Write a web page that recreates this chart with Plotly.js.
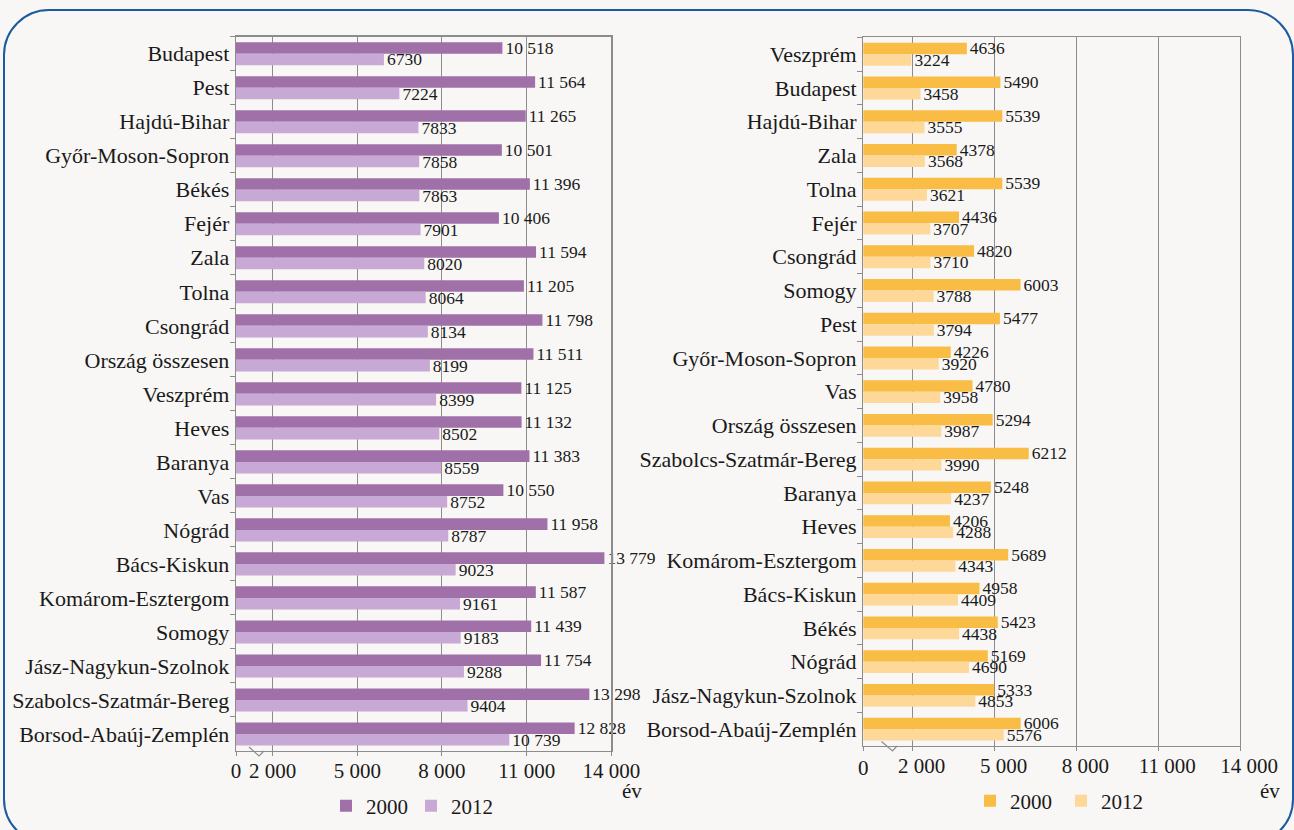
<!DOCTYPE html>
<html><head><meta charset="utf-8">
<script src="https://cdn.plot.ly/plotly-3.0.1.min.js"></script>
<style>
html,body{margin:0;padding:0;background:#f8f7f5;width:1294px;height:830px;overflow:hidden;}
#frame{position:absolute;left:3px;top:9px;width:1291px;height:836px;box-sizing:border-box;border:2.5px solid #1c5c9e;border-radius:46px;}
#chart{position:absolute;left:0;top:0;width:1294px;height:830px;}
</style></head><body>
<div id="frame"></div><div id="chart"></div>
<script>
// ---- data ----
const leftCategories = ['Budapest','Pest','Hajdú-Bihar','Győr-Moson-Sopron','Békés','Fejér','Zala','Tolna','Csongrád','Ország összesen','Veszprém','Heves','Baranya','Vas','Nógrád','Bács-Kiskun','Komárom-Esztergom','Somogy','Jász-Nagykun-Szolnok','Szabolcs-Szatmár-Bereg','Borsod-Abaúj-Zemplén'];
const left2000 = [10518,11564,11265,10501,11396,10406,11594,11205,11798,11511,11125,11132,11383,10550,11958,13779,11587,11439,11754,13298,12828];
const left2012 = [6730,7224,7833,7858,7863,7901,8020,8064,8134,8199,8399,8502,8559,8752,8787,9023,9161,9183,9288,9404,10739];

const rightCategories = ['Veszprém','Budapest','Hajdú-Bihar','Zala','Tolna','Fejér','Csongrád','Somogy','Pest','Győr-Moson-Sopron','Vas','Ország összesen','Szabolcs-Szatmár-Bereg','Baranya','Heves','Komárom-Esztergom','Bács-Kiskun','Békés','Nógrád','Jász-Nagykun-Szolnok','Borsod-Abaúj-Zemplén'];
const right2000 = [4636,5490,5539,4378,5539,4436,4820,6003,5477,4226,4780,5294,6212,5248,4206,5689,4958,5423,5169,5333,6006];
const right2012 = [3224,3458,3555,3568,3621,3707,3710,3788,3794,3920,3958,3987,3990,4237,4288,4343,4409,4438,4690,4853,5576];

const seriesNames = ['2000','2012'];
const tickLabelValues = [0,2000,5000,8000,11000,14000];
const tickLabelText = ['0','2 000','5 000','8 000','11 000','14 000'];
const unitLabel = 'év';

// ---- helpers ----
const W = 1294, H = 830;
const px = x => x / W;
const py = y => 1 - y / H;
function fmt(n){ return n >= 10000 ? String(n).replace(/\B(?=(\d{3})+(?!\d))/g,' ') : String(n); }
function mapTicks(vals, labStart, barMin, barMax){
  return vals.map(v => v === 0 ? barMin : barMin + (v - labStart) * (barMax - barMin) / (14000 - labStart));
}
const FONT = '"Liberation Serif", "Times New Roman", Times, "DejaVu Serif", serif';
const TXT = '#1a1a1a';
const GRID = '#8c8c8c';

const leftRange = [2000, 14000];
const rightRange = [2000, 11590];

function bars(cats, vals, name, color, xa, ya, legend){
  return {type:'bar', orientation:'h', y:cats, x:vals, name:name, xaxis:xa, yaxis:ya, legend:legend,
    marker:{color:color, line:{width:0}}, text:vals.map(fmt), textposition:'outside',
    constraintext:'none', cliponaxis:false, textfont:{family:FONT,size:17.5,color:TXT}, hoverinfo:'skip'};
}

const data = [
  bars(leftCategories, left2000, seriesNames[0], '#a070a8', 'x', 'y', 'legend'),
  bars(leftCategories, left2012, seriesNames[1], '#c8a8d4', 'x', 'y', 'legend'),
  bars(rightCategories, right2000, seriesNames[0], '#f9bc45', 'x2', 'y2', 'legend2'),
  bars(rightCategories, right2012, seriesNames[1], '#fdd898', 'x2', 'y2', 'legend2')
];

const xBase = {showline:true, linecolor:GRID, linewidth:1.3, mirror:true, showgrid:true, gridcolor:GRID, gridwidth:1,
  zeroline:false, ticks:'outside', ticklen:4, tickcolor:GRID, ticklabelstandoff:-4, tickfont:{family:FONT,size:21,color:TXT}, fixedrange:true};
const yBase = {type:'category', autorange:'reversed', showline:true, linecolor:GRID, linewidth:1.3, mirror:true,
  ticks:'outside', tickson:'boundaries', ticklen:5, tickcolor:GRID, showgrid:false, ticklabelstandoff:1,
  tickfont:{family:FONT,size:22,color:TXT}, fixedrange:true};

const layout = {
  width:W, height:H, margin:{l:0,r:0,t:0,b:0},
  paper_bgcolor:'rgba(0,0,0,0)', plot_bgcolor:'rgba(0,0,0,0)',
  barmode:'group', bargap:0.32, bargroupgap:0,
  font:{family:FONT, color:TXT},
  xaxis:Object.assign({}, xBase, {domain:[px(236), px(611.3)], range:leftRange, anchor:'y',
    tickvals:mapTicks(tickLabelValues, 700, leftRange[0], leftRange[1]), ticktext:tickLabelText}),
  yaxis:Object.assign({}, yBase, {domain:[py(751), py(36.7)], anchor:'x'}),
  xaxis2:Object.assign({}, xBase, {domain:[px(863.3), px(1240)], range:rightRange, anchor:'y2',
    tickvals:mapTicks(tickLabelValues, 189, rightRange[0], rightRange[1]),
    ticktext:tickLabelText.map((t,i)=> i===0 ? '' : t), ticklabelshift:9}),
  yaxis2:Object.assign({}, yBase, {domain:[py(746), py(37.3)], anchor:'x2'}),
  legend:{orientation:'h', x:px(326), xanchor:'left', y:py(806), yanchor:'middle', entrywidth:40,
    font:{family:FONT,size:21,color:TXT}, bgcolor:'rgba(0,0,0,0)', traceorder:'normal'},
  legend2:{orientation:'h', x:px(970), xanchor:'left', y:py(801), yanchor:'middle', entrywidth:46,
    font:{family:FONT,size:21,color:TXT}, bgcolor:'rgba(0,0,0,0)', traceorder:'normal'},
  annotations:[
    {text:unitLabel, xref:'paper', yref:'paper', x:px(632), y:py(791), xanchor:'center', yanchor:'middle', showarrow:false, font:{family:FONT,size:21,color:TXT}},
    {text:unitLabel, xref:'paper', yref:'paper', x:px(1269.5), y:py(791), xanchor:'center', yanchor:'middle', showarrow:false, font:{family:FONT,size:21,color:TXT}},
    {text:tickLabelText[0], xref:'paper', yref:'paper', x:px(863.3), y:py(767.5), xanchor:'center', yanchor:'middle', showarrow:false, font:{family:FONT,size:21,color:TXT}}
  ],
  shapes:[
    {type:'path', xref:'paper', yref:'paper', path:`M ${px(249)},${py(747)} L ${px(259)},${py(756)} L ${px(264)},${py(751)}`, line:{color:GRID,width:1.2}},
    {type:'path', xref:'paper', yref:'paper', path:`M ${px(881.5)},${py(741.5)} L ${px(892.5)},${py(751)} L ${px(897)},${py(746)}`, line:{color:GRID,width:1.2}}
  ]
};

Plotly.newPlot('chart', data, layout, {staticPlot:true, displayModeBar:false});
</script>
</body></html>
